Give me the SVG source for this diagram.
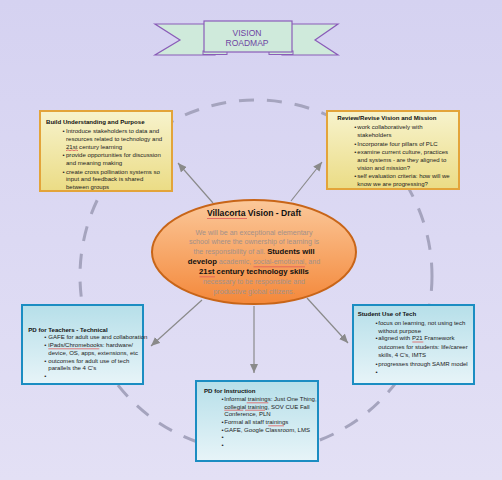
<svg xmlns="http://www.w3.org/2000/svg" width="502" height="480" viewBox="0 0 502 480">
<defs>
<linearGradient id="bg" x1="0" y1="0" x2="0" y2="1"><stop offset="0" stop-color="#d5d2f1"/><stop offset="1" stop-color="#e3e0f5"/></linearGradient>
<linearGradient id="gy" x1="0" y1="0" x2="0" y2="1"><stop offset="0" stop-color="#f7f3cd"/><stop offset="1" stop-color="#ebdc85"/></linearGradient>
<linearGradient id="gb" x1="0" y1="0" x2="0" y2="1"><stop offset="0" stop-color="#b6dfe9"/><stop offset="1" stop-color="#e7f4f8"/></linearGradient>
<linearGradient id="go" x1="0" y1="0" x2="0" y2="1"><stop offset="0" stop-color="#fbc89a"/><stop offset="1" stop-color="#f4883a"/></linearGradient>
<marker id="ah" markerWidth="9" markerHeight="8" refX="9" refY="4" orient="auto" markerUnits="userSpaceOnUse"><path d="M0,0 L9,4 L0,8 z" fill="#8a8a8a"/></marker>
<style>
.t{font-family:"Liberation Sans",Arial,sans-serif;font-size:6.05px;fill:#222}
.h{font-family:"Liberation Sans",Arial,sans-serif;font-size:6.1px;font-weight:bold;fill:#111}
.yb{fill:url(#gy);stroke:#e3a43a;stroke-width:2}
.bb{fill:url(#gb);stroke:#1b8dc2;stroke-width:2}
.c{stroke:#8a8a8a;stroke-width:1.2;fill:none;marker-end:url(#ah)}
.sq{stroke:#e05a5a;stroke-width:0.8;fill:none}
.g{font-family:"Liberation Sans",Arial,sans-serif;font-size:7.1px;fill:#a3918a}
.bd{font-weight:bold;fill:#111;font-size:7.7px}
</style>
</defs>
<rect width="502" height="480" fill="url(#bg)"/>
<circle cx="256" cy="276" r="176" fill="none" stroke="#a5a4be" stroke-width="3" stroke-dasharray="15 13"/>

<g id="banner">
<polygon points="155,24 215,24 215,55 155,55 180,40" fill="#cfeadb" stroke="#8a5cb8" stroke-width="1.2"/>
<polygon points="338,24 282,24 282,55 338,55 315,40" fill="#cfeadb" stroke="#8a5cb8" stroke-width="1.2"/>
<rect x="203" y="51" width="24" height="3.5" fill="#cfeadb" stroke="#8a5cb8" stroke-width="1"/>
<rect x="269" y="51" width="24" height="3.5" fill="#cfeadb" stroke="#8a5cb8" stroke-width="1"/>
<rect x="204" y="21" width="88" height="31" fill="#cfeadb" stroke="#8a5cb8" stroke-width="1.2"/>
<text x="247" y="36.3" text-anchor="middle" font-family="Liberation Sans,Arial,sans-serif" font-size="8.5" fill="#6e44a2">VISION</text>
<text x="247" y="46.3" text-anchor="middle" font-family="Liberation Sans,Arial,sans-serif" font-size="8.5" fill="#6e44a2">ROADMAP</text>
</g>

<g id="connectors">
<line class="c" x1="213" y1="203" x2="178" y2="163"/>
<line class="c" x1="291" y1="201" x2="322" y2="162"/>
<line class="c" x1="202" y1="300" x2="151" y2="346"/>
<line class="c" x1="254" y1="306" x2="254" y2="373"/>
<line class="c" x1="307" y1="298" x2="348" y2="343"/>
</g>

<g id="build">
<rect class="yb" x="40" y="111" width="132" height="80"/>
<text class="h" x="46" y="124">Build Understanding and Purpose</text>
<text class="t" x="62.5" y="132.5">• <tspan x="66">Introduce stakeholders to data and</tspan></text>
<text class="t" x="66" y="140.5">resources related to technology and</text>
<text class="t" x="66" y="148.5">21st century learning</text>
<text class="t" x="62.5" y="157">• <tspan x="66">provide opportunities for discussion</tspan></text>
<text class="t" x="66" y="165">and meaning making</text>
<text class="t" x="62.5" y="173.5">• <tspan x="66">create cross pollination systems so</tspan></text>
<text class="t" x="66" y="181.3">input and feedback is shared</text>
<text class="t" x="66" y="189.3">between groups</text>
<path class="sq" d="M66,150.7 l2,-0.8 l2,0.8 l2,-0.8 l2,0.8 l2,-0.8 l2,0.8"/>
</g>

<g id="review">
<rect class="yb" x="327" y="111" width="132" height="78"/>
<text class="h" x="337.3" y="120.2">Review/Revise Vision and Mission</text>
<text class="t" x="354.3" y="129">• <tspan x="357.3">work collaboratively with</tspan></text>
<text class="t" x="357.3" y="137">stakeholders</text>
<text class="t" x="354.3" y="145.8">• <tspan x="357.3">Incorporate four pillars of PLC</tspan></text>
<text class="t" x="354.3" y="154">• <tspan x="357.3">examine current culture, practices</tspan></text>
<text class="t" x="357.3" y="161.8">and systems - are they aligned to</text>
<text class="t" x="357.3" y="169.7">vision and mission?</text>
<text class="t" x="354.3" y="178">• <tspan x="357.3">self evaluation criteria: how will we</tspan></text>
<text class="t" x="357.3" y="186.3">know we are progressing?</text>
</g>

<g id="vision">
<ellipse cx="254" cy="252" rx="102" ry="52" fill="url(#go)" stroke="#c86518" stroke-width="2"/>
<text x="254" y="215.5" text-anchor="middle" font-family="Liberation Sans,Arial,sans-serif" font-size="8.6" font-weight="bold" fill="#111">Villacorta Vision - Draft</text>
<text class="g" x="254" y="234.8" text-anchor="middle">We will be an exceptional elementary</text>
<text class="g" x="254" y="244.3" text-anchor="middle">school where the ownership of learning is</text>
<text class="g" x="254" y="254.2" text-anchor="middle">the responsibility of all. <tspan class="bd">Students will</tspan></text>
<text class="g" x="254" y="264" text-anchor="middle"><tspan class="bd">develop</tspan> academic, social-emotional, and</text>
<text class="g" x="254" y="274" text-anchor="middle"><tspan class="bd">21st century technology skills</tspan></text>
<text class="g" x="254" y="283.5" text-anchor="middle">necessary to be responsible and</text>
<text class="g" x="254" y="293.5" text-anchor="middle">productive global citizens.</text>
<path class="sq" d="M207,218.5 h40"/>
<path class="sq" d="M253.5,266.8 h51.5"/>
<path class="sq" d="M199.5,276.8 h15.5"/>
</g>

<g id="pdteachers">
<rect class="bb" x="22" y="305" width="121" height="79"/>
<text class="h" x="28.3" y="332">PD for Teachers - Technical</text>
<text class="t" x="44.3" y="339">• <tspan x="48.3">GAFE for adult use and collaboration</tspan></text>
<text class="t" x="44.3" y="347.3">• <tspan x="48.3">iPads/Chromebooks: hardware/</tspan></text>
<text class="t" x="48.3" y="355">device, OS, apps, extensions, etc</text>
<text class="t" x="44.3" y="363">• <tspan x="48.3">outcomes for adult use of tech</tspan></text>
<text class="t" x="48.3" y="370.3">parallels the 4 C's</text>
<text class="t" x="44.3" y="378.3">•</text>
<path class="sq" d="M48.3,348.8 h51"/>
</g>

<g id="studentuse">
<rect class="bb" x="353" y="305" width="121" height="79"/>
<text class="h" x="357.7" y="316">Student Use of Tech</text>
<text class="t" x="375.5" y="324.5">• <tspan x="378.3">focus on learning, not using tech</tspan></text>
<text class="t" x="378.3" y="332.5">without purpose</text>
<text class="t" x="375.5" y="340">• <tspan x="378.3">aligned with P21 Framework</tspan></text>
<text class="t" x="378.3" y="348.8">outcomes for students: life/career</text>
<text class="t" x="378.3" y="357">skills, 4 C's, IMTS</text>
<text class="t" x="375.5" y="365.6">• <tspan x="378.3">progresses through SAMR model</tspan></text>
<text class="t" x="375.5" y="373.5">•</text>
<path class="sq" d="M412.3,342 h11"/>
</g>

<g id="pdinstruction">
<rect class="bb" x="196" y="381" width="122" height="80"/>
<text class="h" x="204" y="393">PD for Instruction</text>
<text class="t" x="221.5" y="401">• <tspan x="224.3">Informal trainings: Just One Thing,</tspan></text>
<text class="t" x="224.3" y="408.5">collegial training, SOV CUE Fall</text>
<text class="t" x="224.3" y="416">Conference, PLN</text>
<text class="t" x="221.5" y="424">• <tspan x="224.3">Formal all staff trainings</tspan></text>
<text class="t" x="221.5" y="431.8">• <tspan x="224.3">GAFE, Google Classroom, LMS</tspan></text>
<text class="t" x="221.5" y="439.3">•</text>
<text class="t" x="221.5" y="446.8">•</text>
<path class="sq" d="M246.7,402.8 h21.6"/>
<path class="sq" d="M224.3,410.2 h19 M245,410.2 h20"/>
<path class="sq" d="M268.3,425.8 h15.7"/>
</g>
</svg>
